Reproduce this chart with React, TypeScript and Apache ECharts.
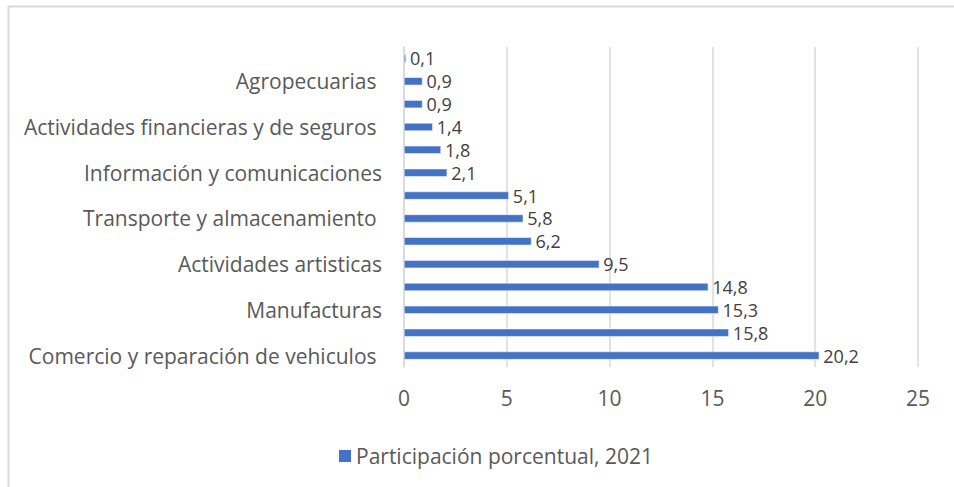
import React, { useEffect, useRef } from "react";
import * as echarts from "echarts";

const categories = [
  "Comercio y reparación de vehiculos ",
  "Construcción",
  "Manufacturas",
  "Servicios",
  "Actividades artisticas",
  "Alojamiento y comida",
  "Transporte y almacenamiento ",
  "Actividades profesionales",
  "Información y comunicaciones",
  "Enseñanza",
  "Actividades financieras y de seguros ",
  "Salud",
  "Agropecuarias ",
  "Minería",
];
const values = [20.2, 15.8, 15.3, 14.8, 9.5, 6.2, 5.8, 5.1, 2.1, 1.8, 1.4, 0.9, 0.9, 0.1];
const seriesName = "Participación porcentual, 2021";
const xTicks = [0, 5, 10, 15, 20, 25];

const FONT = "'Open Sans', sans-serif";
const TEXT = "#595959";
const FS = 21;

export default function App() {
  const ref = useRef<HTMLDivElement>(null);
  useEffect(() => {
    const chart = echarts.init(ref.current!, undefined, { renderer: "svg" });
    chart.setOption({
      animation: false,
      backgroundColor: "#ffffff",
      textStyle: { fontFamily: FONT },
      grid: { left: 404, right: 36, top: 47, bottom: 120, containLabel: false },
      legend: {
        top: 440,
        left: 334,
        itemWidth: 12,
        itemHeight: 12,
        itemGap: 6,
        icon: "rect",
        itemStyle: { color: "#4472c4", borderWidth: 0 },
        textStyle: { color: TEXT, fontSize: FS, fontFamily: FONT, lineHeight: 22 },
        data: [seriesName],
      },
      xAxis: {
        type: "value",
        min: xTicks[0],
        max: xTicks[xTicks.length - 1],
        interval: 5,
        axisLine: { show: false },
        axisTick: { show: false },
        axisLabel: { color: TEXT, fontSize: FS, margin: 20, fontFamily: FONT },
        splitLine: { lineStyle: { color: "#d9d9d9", width: 1.5 } },
      },
      yAxis: {
        type: "category",
        data: categories,
        axisLine: { show: true, lineStyle: { color: "#d9d9d9", width: 1.5 } },
        axisTick: { show: false },
        axisLabel: {
          color: TEXT,
          fontSize: FS,
          fontFamily: FONT,
          interval: 1,
          margin: 22,
        },
        splitLine: { show: false },
      },
      series: [
        {
          name: seriesName,
          type: "bar",
          data: values,
          barWidth: 8,
          itemStyle: { color: "#4472c4", borderColor: "#ffffff", borderWidth: 0.5 },
          label: {
            show: true,
            position: "right",
            distance: 4,
            color: "#404040",
            fontSize: 18,
            lineHeight: 18,
            fontFamily: FONT,
            formatter: (p: any) => String(p.value).replace(".", ","),
          },
        },
      ],
      graphic: [
        { type: "line", shape: { x1: 8, y1: 6.5, x2: 954, y2: 6.5 }, style: { stroke: "#d9d9d9", lineWidth: 2 } },
        { type: "line", shape: { x1: 8.5, y1: 6, x2: 8.5, y2: 487 }, style: { stroke: "#d9d9d9", lineWidth: 2 } },
      ],
    });
    return () => chart.dispose();
  }, []);
  return (
    <div
      ref={ref}
      style={{ position: "fixed", left: 0, top: 0, width: 954, height: 487 }}
    />
  );
}
